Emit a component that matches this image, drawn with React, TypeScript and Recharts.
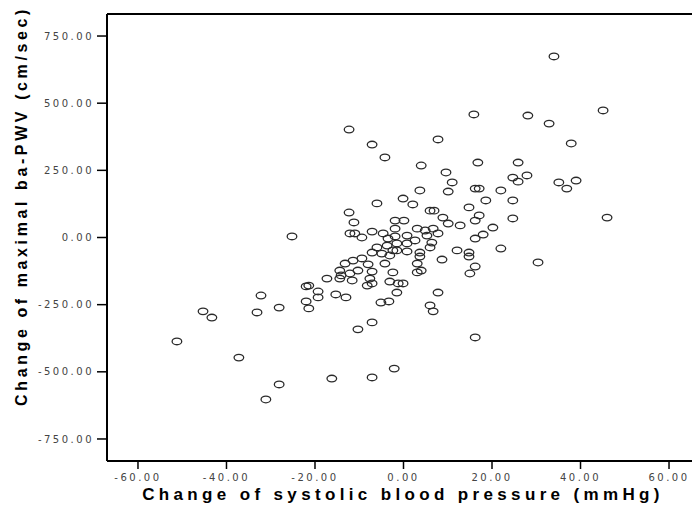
import { ScatterChart, Scatter, XAxis, YAxis, ReferenceLine, Label } from 'recharts';

// change of systolic blood pressure (mmHg)
const bpChange = [
  34.0, 45.1, 15.9, 28.1, 32.9, -12.3, -7.1, 37.9, -4.2, 7.8,
  4.0, 16.8, 25.9, 9.6, 11.0, 10.1, 3.7, 24.7, 25.9, 27.9,
  35.1, 39.0, 36.9, 16.2, 17.1, 22.0, 24.7, 18.6, 14.8, -6.0,
  -0.1, 2.1, 6.0, 6.9, 8.9, 10.1, 12.8, 16.2, 17.1, 24.7,
  46.0, 20.2, 18.0, 16.2, -12.3, -11.2, -12.1, -9.4, -7.1, -1.9,
  0.1, -1.9, -4.6, -3.5, -1.9, -6.0, 3.1, 4.9, 6.7, 5.3,
  2.6, 0.8, 7.8, 6.4, -25.2, 22.0, 12.1, 14.8, 14.8, 8.7,
  -1.5, 0.8, 0.8, -1.5, 3.7, 3.7, 6.0, -3.7, -2.4, -7.1,
  -4.9, -3.1, -4.2, -13.2, -11.4, -9.4, -8.0, -7.1, -14.4, -14.1,
  -12.1, -10.3, -11.6, -14.4, -17.3, -7.6, -7.1, -8.2, -2.4, -3.1,
  -1.2, -0.1, -1.5, 3.1, 3.1, 4.0, 16.2, 15.0, 30.4, 7.8,
  6.0, 6.7, 16.2, -3.3, -5.1, -22.0, -21.4, -19.3, -19.3, -22.0,
  -21.4, -15.3, -13.0, -7.1, -10.3, -16.2, -7.1, -2.1, -32.2, -45.3,
  -43.3, -33.1, -28.1, -51.2, -37.2, -28.1, -31.1, -11.0,
];

// change of maximal ba-PWV (cm/sec)
const pwvChange = [
  674, 473, 458, 454, 424, 402, 346, 350, 298, 365,
  268, 279, 279, 242, 205, 171, 175, 223, 208, 231,
  205, 212, 182, 182, 182, 175, 138, 138, 112, 127,
  145, 123, 100, 100, 74, 52, 45, 63, 82, 71,
  74, 37, 11, -4, 93, 56, 15, 0, 22, 63,
  63, 33, 15, -4, 4, -37, 33, 26, 33, 7,
  -11, 7, 15, -19, 4, -41, -48, -56, -71, -82,
  -22, -22, -52, -48, -56, -71, -37, -30, -48, -56,
  -60, -67, -97, -97, -86, -78, -100, -127, -123, -141,
  -134, -123, -160, -153, -153, -153, -171, -179, -130, -164,
  -171, -171, -205, -97, -130, -123, -108, -134, -93, -205,
  -253, -275, -372, -238, -242, -182, -179, -201, -223, -238,
  -264, -212, -223, -316, -342, -525, -521, -488, -216, -275,
  -298, -279, -261, -387, -447, -547, -603, 15,
];

const xTicks = [-60, -40, -20, 0, 20, 40, 60];
const yTicks = [-750, -500, -250, 0, 250, 500, 750];

const data = bpChange.map((x, i) => ({ x, y: pwvChange[i] }));

const tickStyle = { fontFamily: 'DejaVu Sans', fontSize: 10, fill: '#444', letterSpacing: 2.5 };
const titleStyle = { fontFamily: 'Liberation Sans', fontWeight: 'bold', fill: '#000' };

const Ring = (props: any) => {
  const { cx, cy } = props;
  if (cx == null || cy == null) return <g />;
  return <ellipse cx={cx} cy={cy} rx={4.8} ry={3.3} fill="none" stroke="#2a2a2a" strokeWidth={1.3} />;
};

export default function App() {
  return (
    <div style={{ position: 'fixed', left: 0, top: 0, width: 692, height: 507, overflow: 'hidden', background: '#fff' }}>
      <ScatterChart width={712} height={507} margin={{ top: 14, right: 12, left: 0, bottom: 0 }}>
        <XAxis
          type="number"
          dataKey="x"
          domain={[-67, 67]}
          ticks={xTicks}
          tickFormatter={(v: number) => v.toFixed(2)}
          tick={tickStyle}
          tickSize={8}
          tickMargin={5}
          height={46}
          axisLine={{ stroke: '#000', strokeWidth: 2 }}
          tickLine={{ stroke: '#000', strokeWidth: 1.5 }}
        >
          <Label
            content={() => (
              <text x={403} y={500} textAnchor="middle" fontSize={17} letterSpacing={4.35} style={titleStyle}>
                Change of systolic blood pressure (mmHg)
              </text>
            )}
          />
        </XAxis>
        <YAxis
          type="number"
          dataKey="y"
          domain={[-832, 832]}
          ticks={yTicks}
          tickFormatter={(v: number) => v.toFixed(2)}
          tick={tickStyle}
          tickSize={10}
          tickMargin={3}
          width={107}
          axisLine={{ stroke: '#000', strokeWidth: 2 }}
          tickLine={{ stroke: '#000', strokeWidth: 1.5 }}
        >
          <Label
            content={() => (
              <text
                x={27}
                y={206}
                transform="rotate(-90 27 206)"
                textAnchor="middle"
                fontSize={16}
                letterSpacing={3.6}
                style={titleStyle}
              >
                Change of maximal ba-PWV (cm/sec)
              </text>
            )}
          />
        </YAxis>
        <ReferenceLine y={832} stroke="#000" strokeWidth={2} />
        <Scatter data={data} shape={Ring} isAnimationActive={false} />
      </ScatterChart>
    </div>
  );
}
